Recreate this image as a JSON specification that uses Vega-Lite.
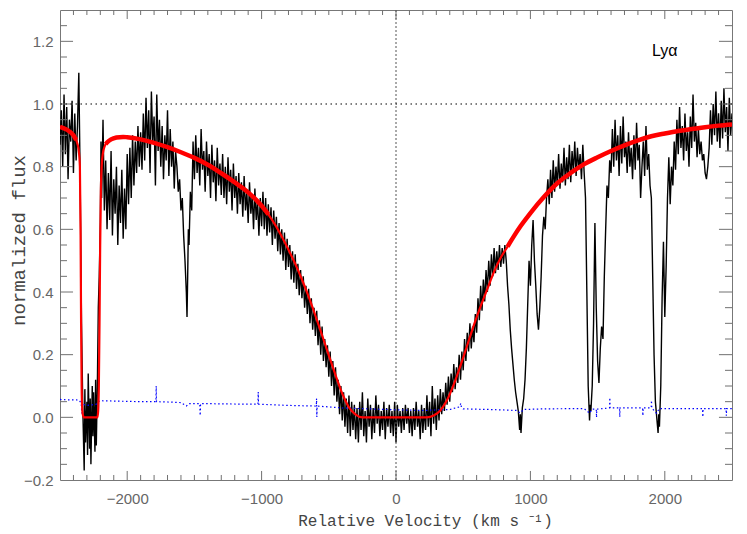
{
  "$schema": "https://vega.github.io/schema/vega-lite/v6.json",
  "width": 672,
  "height": 470,
  "autosize": {"type": "none"},
  "padding": {"left": 60, "top": 10, "right": 15, "bottom": 54},
  "background": "white",
  "config": {"view": {"stroke": "#777777", "strokeWidth": 1}, "axis": {"domain": false, "grid": false, "ticks": false}},
  "datasets": {
    "xmaj": [{"v":-2000},{"v":-1000},{"v":0},{"v":1000},{"v":2000}],
    "xmin": [{"v":-2400},{"v":-2300},{"v":-2200},{"v":-2100},{"v":-1900},{"v":-1800},{"v":-1700},{"v":-1600},{"v":-1500},{"v":-1400},{"v":-1300},{"v":-1200},{"v":-1100},{"v":-900},{"v":-800},{"v":-700},{"v":-600},{"v":-500},{"v":-400},{"v":-300},{"v":-200},{"v":-100},{"v":100},{"v":200},{"v":300},{"v":400},{"v":500},{"v":600},{"v":700},{"v":800},{"v":900},{"v":1100},{"v":1200},{"v":1300},{"v":1400},{"v":1500},{"v":1600},{"v":1700},{"v":1800},{"v":1900},{"v":2100},{"v":2200},{"v":2300},{"v":2400}],
    "ymaj": [{"f":0},{"f":0.2},{"f":0.4},{"f":0.6},{"f":0.8},{"f":1.0},{"f":1.2}],
    "ymin": [{"f":-0.15},{"f":-0.1},{"f":-0.05},{"f":0.05},{"f":0.1},{"f":0.15},{"f":0.25},{"f":0.3},{"f":0.35},{"f":0.45},{"f":0.5},{"f":0.55},{"f":0.65},{"f":0.7},{"f":0.75},{"f":0.85},{"f":0.9},{"f":0.95},{"f":1.05},{"f":1.1},{"f":1.15},{"f":1.25}],
    "spec": [
      {"v":-2500,"f":0.87},{"v":-2490,"f":0.98},{"v":-2480,"f":0.80},{"v":-2470,"f":1.03},{"v":-2460,"f":0.84},{"v":-2450,"f":0.99},{"v":-2440,"f":0.76},{"v":-2430,"f":0.95},{"v":-2420,"f":0.88},{"v":-2410,"f":1.01},{"v":-2400,"f":0.78},{"v":-2390,"f":0.97},{"v":-2380,"f":0.82},{"v":-2370,"f":0.93},{"v":-2360,"f":1.10},{"v":-2350,"f":0.76},{"v":-2340,"f":0.30},
      {"v":-2330,"f":0.02},{"v":-2320,"f":-0.17},{"v":-2315,"f":0.09},{"v":-2310,"f":-0.08},{"v":-2300,"f":0.05},{"v":-2295,"f":-0.12},{"v":-2290,"f":0.14},{"v":-2280,"f":-0.10},{"v":-2275,"f":0.06},{"v":-2270,"f":-0.15},{"v":-2260,"f":0.10},{"v":-2255,"f":-0.06},{"v":-2250,"f":0.08},{"v":-2240,"f":-0.11},{"v":-2235,"f":0.12},{"v":-2230,"f":-0.09},{"v":-2222,"f":0.10},{"v":-2215,"f":0.35},{"v":-2208,"f":0.45},{"v":-2200,"f":0.62},{"v":-2195,"f":0.88},{"v":-2190,"f":0.70},{"v":-2180,"f":0.95},
      {"v":-2170,"f":0.66},{"v":-2160,"f":0.82},{"v":-2150,"f":0.60},{"v":-2140,"f":0.78},{"v":-2130,"f":0.63},{"v":-2120,"f":0.85},{"v":-2110,"f":0.58},{"v":-2100,"f":0.76},{"v":-2090,"f":0.65},{"v":-2080,"f":0.80},{"v":-2070,"f":0.55},{"v":-2060,"f":0.74},{"v":-2050,"f":0.62},{"v":-2040,"f":0.79},{"v":-2030,"f":0.57},{"v":-2020,"f":0.73},{"v":-2010,"f":0.60},{"v":-2000,"f":0.84},{"v":-1990,"f":0.68},
      {"v":-1980,"f":0.86},{"v":-1970,"f":0.70},{"v":-1960,"f":0.90},{"v":-1950,"f":0.74},{"v":-1940,"f":0.88},{"v":-1930,"f":0.78},{"v":-1920,"f":0.93},{"v":-1910,"f":0.80},{"v":-1900,"f":0.91},{"v":-1890,"f":0.79},
      {"v":-1880,"f":0.97},{"v":-1870,"f":0.82},{"v":-1860,"f":1.02},{"v":-1850,"f":0.86},{"v":-1840,"f":0.98},{"v":-1830,"f":0.78},{"v":-1820,"f":1.04},{"v":-1810,"f":0.88},{"v":-1800,"f":0.96},{"v":-1790,"f":0.74},{"v":-1780,"f":1.03},{"v":-1770,"f":0.85},{"v":-1760,"f":0.95},{"v":-1750,"f":0.80},{"v":-1740,"f":0.93},{"v":-1730,"f":0.76},{"v":-1720,"f":0.90},{"v":-1710,"f":0.82},{"v":-1700,"f":0.98},{"v":-1690,"f":0.77},{"v":-1680,"f":0.92},{"v":-1670,"f":0.80},{"v":-1660,"f":0.88},{"v":-1650,"f":0.73},{"v":-1640,"f":0.85},
      {"v":-1630,"f":0.80},{"v":-1620,"f":0.72},{"v":-1610,"f":0.76},{"v":-1600,"f":0.66},{"v":-1590,"f":0.70},{"v":-1580,"f":0.58},{"v":-1570,"f":0.50},{"v":-1560,"f":0.40},{"v":-1555,"f":0.32},{"v":-1550,"f":0.45},{"v":-1545,"f":0.60},{"v":-1540,"f":0.55},{"v":-1530,"f":0.72},{"v":-1520,"f":0.66},
      {"v":-1510,"f":0.88},{"v":-1500,"f":0.76},{"v":-1490,"f":0.90},{"v":-1480,"f":0.78},{"v":-1470,"f":0.86},{"v":-1460,"f":0.74},{"v":-1450,"f":0.92},{"v":-1440,"f":0.79},{"v":-1430,"f":0.85},{"v":-1420,"f":0.72},{"v":-1410,"f":0.88},{"v":-1400,"f":0.77},{"v":-1390,"f":0.84},{"v":-1380,"f":0.70},{"v":-1370,"f":0.87},{"v":-1360,"f":0.75},{"v":-1350,"f":0.82},{"v":-1340,"f":0.69},{"v":-1330,"f":0.86},{"v":-1320,"f":0.74},{"v":-1310,"f":0.81},{"v":-1300,"f":0.71},{"v":-1290,"f":0.84},{"v":-1280,"f":0.70},{"v":-1270,"f":0.80},{"v":-1260,"f":0.68},{"v":-1250,"f":0.83},{"v":-1240,"f":0.72},{"v":-1230,"f":0.79},{"v":-1220,"f":0.66},{"v":-1210,"f":0.81},{"v":-1200,"f":0.70},{"v":-1190,"f":0.77},{"v":-1180,"f":0.65},{"v":-1170,"f":0.78},{"v":-1160,"f":0.68},{"v":-1150,"f":0.75},{"v":-1140,"f":0.64},{"v":-1130,"f":0.77},{"v":-1120,"f":0.66},{"v":-1110,"f":0.72},{"v":-1100,"f":0.62},{"v":-1090,"f":0.75},{"v":-1080,"f":0.65},{"v":-1070,"f":0.71},{"v":-1060,"f":0.60},{"v":-1050,"f":0.73},{"v":-1040,"f":0.63},{"v":-1030,"f":0.69},{"v":-1020,"f":0.58},{"v":-1010,"f":0.70},{"v":-1000,"f":0.61},
      {"v":-990,"f":0.72},{"v":-980,"f":0.60},{"v":-970,"f":0.70},{"v":-960,"f":0.58},{"v":-950,"f":0.68},{"v":-940,"f":0.59},{"v":-930,"f":0.67},{"v":-920,"f":0.55},{"v":-910,"f":0.66},{"v":-900,"f":0.57},{"v":-890,"f":0.64},{"v":-880,"f":0.53},{"v":-870,"f":0.62},{"v":-860,"f":0.52},{"v":-850,"f":0.60},{"v":-840,"f":0.50},{"v":-830,"f":0.59},{"v":-820,"f":0.47},{"v":-810,"f":0.57},{"v":-800,"f":0.48},{"v":-790,"f":0.55},{"v":-780,"f":0.44},{"v":-770,"f":0.53},{"v":-760,"f":0.43},{"v":-750,"f":0.52},{"v":-740,"f":0.41},{"v":-730,"f":0.49},{"v":-720,"f":0.39},{"v":-710,"f":0.47},{"v":-700,"f":0.38},{"v":-690,"f":0.45},{"v":-680,"f":0.35},{"v":-670,"f":0.42},{"v":-660,"f":0.33},{"v":-650,"f":0.41},{"v":-640,"f":0.30},{"v":-630,"f":0.38},{"v":-620,"f":0.28},{"v":-610,"f":0.35},{"v":-600,"f":0.26},{"v":-590,"f":0.34},{"v":-580,"f":0.23},{"v":-570,"f":0.31},{"v":-560,"f":0.20},{"v":-550,"f":0.29},{"v":-540,"f":0.18},{"v":-530,"f":0.25},{"v":-520,"f":0.16},{"v":-510,"f":0.23},{"v":-500,"f":0.13},{"v":-490,"f":0.21},{"v":-480,"f":0.10},{"v":-470,"f":0.18},{"v":-460,"f":0.07},{"v":-450,"f":0.16},{"v":-440,"f":0.05},{"v":-430,"f":0.12},{"v":-420,"f":0.01},{"v":-410,"f":0.10},{"v":-400,"f":-0.01},{"v":-390,"f":0.08},{"v":-380,"f":-0.03},{"v":-370,"f":0.06},{"v":-360,"f":-0.05},{"v":-350,"f":0.07},{"v":-340,"f":-0.06},{"v":-330,"f":0.05},{"v":-320,"f":-0.04},{"v":-310,"f":0.04},{"v":-300,"f":-0.07},
      {"v":-290,"f":0.03},{"v":-280,"f":-0.08},{"v":-270,"f":0.05},{"v":-260,"f":-0.04},{"v":-250,"f":0.08},{"v":-240,"f":-0.06},{"v":-230,"f":0.02},{"v":-220,"f":-0.08},{"v":-210,"f":0.06},{"v":-200,"f":-0.03},{"v":-190,"f":0.04},{"v":-180,"f":-0.07},{"v":-170,"f":0.03},{"v":-160,"f":-0.05},{"v":-150,"f":0.07},{"v":-140,"f":-0.02},{"v":-130,"f":0.04},{"v":-120,"f":-0.06},{"v":-110,"f":0.02},{"v":-100,"f":-0.04},{"v":-90,"f":0.05},{"v":-80,"f":-0.07},{"v":-70,"f":0.03},{"v":-60,"f":-0.03},{"v":-50,"f":0.04},{"v":-40,"f":-0.05},{"v":-30,"f":0.02},{"v":-20,"f":-0.06},{"v":-10,"f":0.05},{"v":0,"f":-0.08},{"v":10,"f":0.04},{"v":20,"f":-0.03},{"v":30,"f":0.02},{"v":40,"f":-0.05},{"v":50,"f":0.03},{"v":60,"f":-0.04},{"v":70,"f":0.04},{"v":80,"f":-0.02},{"v":90,"f":0.03},{"v":100,"f":-0.05},{"v":110,"f":0.02},{"v":120,"f":-0.06},{"v":130,"f":0.03},{"v":140,"f":-0.04},{"v":150,"f":0.05},{"v":160,"f":-0.03},{"v":170,"f":0.02},{"v":180,"f":-0.07},{"v":190,"f":0.04},{"v":200,"f":-0.05},{"v":210,"f":0.03},{"v":220,"f":-0.04},{"v":230,"f":0.07},{"v":240,"f":-0.03},{"v":250,"f":0.05},{"v":260,"f":-0.06},{"v":270,"f":0.10},{"v":280,"f":-0.02},{"v":290,"f":0.06},{"v":300,"f":-0.04},
      {"v":310,"f":0.07},{"v":320,"f":-0.01},{"v":330,"f":0.09},{"v":340,"f":0.01},{"v":350,"f":0.08},{"v":360,"f":0.02},{"v":370,"f":0.11},{"v":380,"f":0.04},{"v":390,"f":0.13},{"v":400,"f":0.05},{"v":410,"f":0.14},{"v":420,"f":0.08},{"v":430,"f":0.17},{"v":440,"f":0.09},{"v":450,"f":0.16},{"v":460,"f":0.11},{"v":470,"f":0.20},{"v":480,"f":0.12},{"v":490,"f":0.21},{"v":500,"f":0.15},{"v":510,"f":0.25},{"v":520,"f":0.18},{"v":530,"f":0.27},{"v":540,"f":0.21},{"v":550,"f":0.30},{"v":560,"f":0.22},{"v":570,"f":0.29},{"v":580,"f":0.24},{"v":590,"f":0.33},{"v":600,"f":0.27},{"v":610,"f":0.38},{"v":620,"f":0.31},{"v":630,"f":0.42},{"v":640,"f":0.34},{"v":650,"f":0.44},{"v":660,"f":0.37},{"v":670,"f":0.47},{"v":680,"f":0.40},{"v":690,"f":0.50},{"v":700,"f":0.42},{"v":710,"f":0.52},{"v":720,"f":0.45},{"v":730,"f":0.54},{"v":740,"f":0.46},{"v":750,"f":0.53},{"v":760,"f":0.47},{"v":770,"f":0.55},{"v":780,"f":0.48},{"v":790,"f":0.54},{"v":800,"f":0.49},{"v":810,"f":0.55},
      {"v":820,"f":0.50},{"v":830,"f":0.42},{"v":840,"f":0.36},{"v":850,"f":0.28},{"v":860,"f":0.22},{"v":870,"f":0.17},{"v":880,"f":0.12},{"v":890,"f":0.08},{"v":900,"f":0.05},{"v":910,"f":0.02},{"v":920,"f":-0.04},{"v":925,"f":0.01},{"v":930,"f":-0.05},{"v":940,"f":0.03},{"v":950,"f":0.06},{"v":960,"f":0.12},{"v":970,"f":0.22},{"v":980,"f":0.36},{"v":990,"f":0.50},{"v":1000,"f":0.42},{"v":1010,"f":0.55},{"v":1020,"f":0.63},{"v":1030,"f":0.50},{"v":1040,"f":0.42},{"v":1050,"f":0.33},{"v":1060,"f":0.28},{"v":1070,"f":0.35},{"v":1080,"f":0.45},{"v":1090,"f":0.58},{"v":1100,"f":0.64},{"v":1110,"f":0.60},{"v":1120,"f":0.70},
      {"v":1130,"f":0.76},{"v":1140,"f":0.68},{"v":1150,"f":0.79},{"v":1160,"f":0.70},{"v":1170,"f":0.82},{"v":1180,"f":0.72},{"v":1190,"f":0.80},{"v":1200,"f":0.74},{"v":1210,"f":0.84},{"v":1220,"f":0.73},{"v":1230,"f":0.81},{"v":1240,"f":0.75},{"v":1250,"f":0.86},{"v":1260,"f":0.74},{"v":1270,"f":0.83},{"v":1280,"f":0.76},{"v":1290,"f":0.87},{"v":1300,"f":0.75},{"v":1310,"f":0.85},{"v":1320,"f":0.78},{"v":1330,"f":0.88},{"v":1340,"f":0.77},{"v":1350,"f":0.86},{"v":1360,"f":0.79},{"v":1370,"f":0.84},{"v":1380,"f":0.76},{"v":1390,"f":0.87},{"v":1400,"f":0.78},{"v":1410,"f":0.70},
      {"v":1420,"f":0.40},{"v":1430,"f":0.10},{"v":1440,"f":-0.01},{"v":1445,"f":0.04},{"v":1450,"f":0.02},{"v":1460,"f":0.10},{"v":1470,"f":0.30},{"v":1480,"f":0.62},{"v":1490,"f":0.35},{"v":1500,"f":0.18},{"v":1510,"f":0.11},{"v":1520,"f":0.22},{"v":1530,"f":0.29},{"v":1540,"f":0.25},{"v":1550,"f":0.45},{"v":1560,"f":0.60},{"v":1570,"f":0.74},{"v":1580,"f":0.70},{"v":1590,"f":0.82},
      {"v":1600,"f":0.78},{"v":1610,"f":0.92},{"v":1620,"f":0.80},{"v":1630,"f":0.95},{"v":1640,"f":0.82},{"v":1650,"f":0.90},{"v":1660,"f":0.77},{"v":1670,"f":0.93},{"v":1680,"f":0.81},{"v":1690,"f":0.96},{"v":1700,"f":0.83},{"v":1710,"f":0.88},{"v":1720,"f":0.78},{"v":1730,"f":0.91},{"v":1740,"f":0.80},{"v":1750,"f":0.86},{"v":1760,"f":0.76},{"v":1770,"f":0.90},{"v":1780,"f":0.79},{"v":1790,"f":0.94},{"v":1800,"f":0.82},{"v":1810,"f":0.87},{"v":1820,"f":0.70},{"v":1830,"f":0.80},{"v":1840,"f":0.88},{"v":1850,"f":0.77},{"v":1860,"f":0.93},{"v":1870,"f":0.79},{"v":1880,"f":0.84},{"v":1890,"f":0.74},
      {"v":1900,"f":0.70},{"v":1910,"f":0.45},{"v":1920,"f":0.20},{"v":1930,"f":0.05},{"v":1940,"f":0.00},{"v":1950,"f":-0.05},{"v":1955,"f":0.01},{"v":1960,"f":-0.03},{"v":1970,"f":0.10},{"v":1980,"f":0.38},{"v":1990,"f":0.56},{"v":2000,"f":0.32},{"v":2010,"f":0.48},{"v":2020,"f":0.70},{"v":2030,"f":0.83},{"v":2040,"f":0.68},{"v":2050,"f":0.80},
      {"v":2060,"f":0.74},{"v":2070,"f":0.88},{"v":2080,"f":0.79},{"v":2090,"f":0.95},{"v":2100,"f":0.84},{"v":2110,"f":0.99},{"v":2120,"f":0.86},{"v":2130,"f":0.93},{"v":2140,"f":0.82},{"v":2150,"f":0.97},{"v":2160,"f":0.85},{"v":2170,"f":0.91},{"v":2180,"f":0.80},{"v":2190,"f":0.96},{"v":2200,"f":0.86},{"v":2210,"f":1.03},{"v":2220,"f":0.88},{"v":2230,"f":0.94},{"v":2240,"f":0.83},{"v":2250,"f":0.92},{"v":2260,"f":0.84},{"v":2270,"f":0.88},{"v":2280,"f":0.82},
      {"v":2290,"f":0.84},{"v":2300,"f":0.78},{"v":2310,"f":0.76},{"v":2320,"f":0.80},{"v":2330,"f":0.86},
      {"v":2340,"f":0.98},{"v":2350,"f":0.87},{"v":2360,"f":1.00},{"v":2370,"f":0.90},{"v":2380,"f":1.04},{"v":2390,"f":0.88},{"v":2400,"f":0.97},{"v":2410,"f":0.86},{"v":2420,"f":1.01},{"v":2430,"f":0.89},{"v":2440,"f":1.05},{"v":2450,"f":0.91},{"v":2460,"f":0.99},{"v":2470,"f":0.85},{"v":2480,"f":1.02},{"v":2490,"f":0.90},{"v":2500,"f":0.97}
    ],
    "model": [
      {"v":-2500,"f":0.927},{"v":-2450,"f":0.918},{"v":-2400,"f":0.90},{"v":-2380,"f":0.885},{"v":-2370,"f":0.872},{"v":-2360,"f":0.85},{"v":-2352,"f":0.80},{"v":-2347,"f":0.60},{"v":-2343,"f":0.30},{"v":-2339,"f":0.10},{"v":-2335,"f":0.03},{"v":-2330,"f":0.008},{"v":-2322,"f":0},{"v":-2222,"f":0},{"v":-2216,"f":0.02},{"v":-2211,"f":0.10},{"v":-2206,"f":0.30},{"v":-2201,"f":0.55},{"v":-2196,"f":0.72},{"v":-2190,"f":0.80},{"v":-2180,"f":0.845},{"v":-2170,"f":0.862},{"v":-2160,"f":0.872},{"v":-2150,"f":0.877},{"v":-2120,"f":0.887},{"v":-2080,"f":0.893},{"v":-2030,"f":0.895},{"v":-2000,"f":0.894},{"v":-1900,"f":0.887},{"v":-1800,"f":0.876},{"v":-1700,"f":0.862},{"v":-1600,"f":0.846},{"v":-1500,"f":0.828},{"v":-1400,"f":0.806},{"v":-1300,"f":0.779},{"v":-1200,"f":0.75},{"v":-1100,"f":0.718},{"v":-1000,"f":0.675},{"v":-950,"f":0.648},{"v":-900,"f":0.615},{"v":-850,"f":0.577},{"v":-800,"f":0.535},{"v":-750,"f":0.49},{"v":-700,"f":0.44},{"v":-650,"f":0.385},{"v":-600,"f":0.325},{"v":-550,"f":0.262},{"v":-500,"f":0.198},{"v":-450,"f":0.135},{"v":-400,"f":0.076},{"v":-350,"f":0.032},{"v":-300,"f":0.009},{"v":-250,"f":0},{"v":230,"f":0},{"v":280,"f":0.006},{"v":330,"f":0.022},{"v":380,"f":0.055},{"v":430,"f":0.105},{"v":480,"f":0.165},{"v":530,"f":0.23},{"v":580,"f":0.295},{"v":630,"f":0.355},{"v":680,"f":0.41},{"v":730,"f":0.465},{"v":780,"f":0.51},{"v":830,"f":0.545},{"v":880,"f":0.58},{"v":930,"f":0.612},{"v":1000,"f":0.652},{"v":1100,"f":0.703},{"v":1200,"f":0.747},{"v":1300,"f":0.78},{"v":1400,"f":0.808},{"v":1500,"f":0.83},{"v":1600,"f":0.85},{"v":1700,"f":0.868},{"v":1800,"f":0.884},{"v":1900,"f":0.897},{"v":2000,"f":0.906},{"v":2100,"f":0.914},{"v":2200,"f":0.92},{"v":2300,"f":0.926},{"v":2400,"f":0.931},{"v":2500,"f":0.935}
    ],
    "thick": [
      {"g":1,"v":-2500,"f":0.927},{"g":1,"v":-2450,"f":0.918},{"g":1,"v":-2400,"f":0.90},{"g":1,"v":-2380,"f":0.885},
      {"g":2,"v":-2160,"f":0.872},{"g":2,"v":-2150,"f":0.877},{"g":2,"v":-2120,"f":0.887},{"g":2,"v":-2080,"f":0.893},{"g":2,"v":-2030,"f":0.895},{"g":2,"v":-2000,"f":0.894},{"g":2,"v":-1900,"f":0.887},{"g":2,"v":-1800,"f":0.876},{"g":2,"v":-1700,"f":0.862},{"g":2,"v":-1600,"f":0.846},{"g":2,"v":-1500,"f":0.828},{"g":2,"v":-1400,"f":0.806},{"g":2,"v":-1300,"f":0.779},{"g":2,"v":-1200,"f":0.75},{"g":2,"v":-1100,"f":0.718},{"g":2,"v":-1000,"f":0.675},{"g":2,"v":-950,"f":0.648},
      {"g":3,"v":830,"f":0.545},{"g":3,"v":880,"f":0.58},{"g":3,"v":930,"f":0.612},{"g":3,"v":1000,"f":0.652},{"g":3,"v":1100,"f":0.703},{"g":3,"v":1200,"f":0.747},{"g":3,"v":1300,"f":0.78},{"g":3,"v":1400,"f":0.808},{"g":3,"v":1500,"f":0.83},{"g":3,"v":1600,"f":0.85},{"g":3,"v":1700,"f":0.868},{"g":3,"v":1800,"f":0.884},{"g":3,"v":1900,"f":0.897},{"g":3,"v":2000,"f":0.906},{"g":3,"v":2100,"f":0.914},{"g":3,"v":2200,"f":0.92},{"g":3,"v":2300,"f":0.926},{"g":3,"v":2400,"f":0.931},{"g":3,"v":2500,"f":0.935}
    ],
    "err": [
      {"v":-2500,"f":0.057},{"v":-2450,"f":0.056},{"v":-2400,"f":0.056},{"v":-2360,"f":0.055},{"v":-2342,"f":0.046},{"v":-2338,"f":0.012},{"v":-2334,"f":0.042},{"v":-2300,"f":0.038},{"v":-2260,"f":0.04},{"v":-2230,"f":0.042},{"v":-2215,"f":0.05},{"v":-2200,"f":0.053},{"v":-2100,"f":0.052},{"v":-2000,"f":0.051},{"v":-1900,"f":0.050},{"v":-1786,"f":0.050},{"v":-1784,"f":0.10},{"v":-1782,"f":0.050},{"v":-1700,"f":0.049},{"v":-1600,"f":0.047},{"v":-1560,"f":0.036},{"v":-1540,"f":0.044},{"v":-1460,"f":0.044},{"v":-1457,"f":0.006},{"v":-1454,"f":0.044},{"v":-1300,"f":0.043},{"v":-1100,"f":0.042},{"v":-1027,"f":0.042},{"v":-1025,"f":0.081},{"v":-1023,"f":0.042},{"v":-800,"f":0.038},{"v":-700,"f":0.037},{"v":-593,"f":0.036},{"v":-591,"f":0.06},{"v":-589,"f":0.001},{"v":-587,"f":0.036},{"v":-400,"f":0.030},{"v":-200,"f":0.027},{"v":0,"f":0.024},{"v":200,"f":0.022},{"v":400,"f":0.025},{"v":470,"f":0.033},{"v":483,"f":0.045},{"v":486,"f":0.033},{"v":500,"f":0.027},{"v":700,"f":0.025},{"v":900,"f":0.022},{"v":922,"f":0.014},{"v":950,"f":0.025},{"v":1100,"f":0.027},{"v":1400,"f":0.028},{"v":1440,"f":0.013},{"v":1460,"f":0.026},{"v":1490,"f":0.026},{"v":1492,"f":0.0},{"v":1494,"f":0.026},{"v":1589,"f":0.030},{"v":1591,"f":0.063},{"v":1593,"f":0.030},{"v":1663,"f":0.030},{"v":1665,"f":0.001},{"v":1667,"f":0.030},{"v":1835,"f":0.030},{"v":1837,"f":0.005},{"v":1839,"f":0.030},{"v":1899,"f":0.030},{"v":1901,"f":0.054},{"v":1903,"f":0.030},{"v":1938,"f":0.013},{"v":1960,"f":0.028},{"v":2281,"f":0.028},{"v":2283,"f":0.001},{"v":2285,"f":0.028},{"v":2456,"f":0.028},{"v":2458,"f":0.005},{"v":2460,"f":0.028},{"v":2500,"f":0.028}
    ]
  },
  "resolve": {"axis": {"x": "independent", "y": "independent"}},
  "layer": [
    {
      "data": {"name": "spec"},
      "mark": {"type": "line", "color": "black", "strokeWidth": 1.4, "clip": true},
      "encoding": {
        "x": {"field": "v", "type": "quantitative",
          "scale": {"domain": [-2500, 2500], "nice": false, "zero": false},
          "axis": {
            "orient": "bottom",
            "values": [-2000, -1000, 0, 1000, 2000],
            "ticks": false,
            "format": "d",
            "labelOverlap": false, "labelFlush": false, "labelBound": false,
            "labelPadding": 11,
            "labelFont": "Liberation Sans", "labelFontSize": 15, "labelColor": "#666666",
            "title": "Relative Velocity (km s ⁻¹)",
            "titleFont": "Liberation Mono", "titleFontSize": 16, "titleFontWeight": "normal", "titleColor": "#444444",
            "titlePadding": 6, "titleX": 365
          }
        },
        "y": {"field": "f", "type": "quantitative",
          "scale": {"domain": [-0.2, 1.3], "nice": false, "zero": false},
          "axis": {
            "orient": "left",
            "values": [-0.2, 0, 0.2, 0.4, 0.6, 0.8, 1.0, 1.2],
            "ticks": false,
            "format": ".1f",
            "labelOverlap": false, "labelFlush": false, "labelBound": false,
            "labelPadding": 7,
            "labelFont": "Liberation Sans", "labelFontSize": 15, "labelColor": "#666666",
            "title": "normalized flux",
            "titleFont": "Liberation Mono", "titleFontSize": 19, "titleFontWeight": "normal", "titleColor": "#444444",
            "titlePadding": -5, "titleY": 230
          }
        }
      }
    },
    {
      "data": {"name": "xmaj"},
      "mark": {"type": "rule", "color": "#707070", "strokeWidth": 1},
      "encoding": {
        "x": {"field": "v", "type": "quantitative", "axis": null},
        "y": {"datum": -0.2, "type": "quantitative", "axis": null},
        "y2": {"datum": -0.1712}
      }
    },
    {
      "data": {"name": "xmaj"},
      "mark": {"type": "rule", "color": "#707070", "strokeWidth": 1},
      "encoding": {
        "x": {"field": "v", "type": "quantitative", "axis": null},
        "y": {"datum": 1.3, "type": "quantitative", "axis": null},
        "y2": {"datum": 1.2712}
      }
    },
    {
      "data": {"name": "xmin"},
      "mark": {"type": "rule", "color": "#707070", "strokeWidth": 1},
      "encoding": {
        "x": {"field": "v", "type": "quantitative", "axis": null},
        "y": {"datum": -0.2, "type": "quantitative", "axis": null},
        "y2": {"datum": -0.184}
      }
    },
    {
      "data": {"name": "xmin"},
      "mark": {"type": "rule", "color": "#707070", "strokeWidth": 1},
      "encoding": {
        "x": {"field": "v", "type": "quantitative", "axis": null},
        "y": {"datum": 1.3, "type": "quantitative", "axis": null},
        "y2": {"datum": 1.284}
      }
    },
    {
      "data": {"name": "ymaj"},
      "mark": {"type": "rule", "color": "#707070", "strokeWidth": 1},
      "encoding": {
        "y": {"field": "f", "type": "quantitative", "axis": null},
        "x": {"datum": -2500, "type": "quantitative", "axis": null},
        "x2": {"datum": -2403}
      }
    },
    {
      "data": {"name": "ymaj"},
      "mark": {"type": "rule", "color": "#707070", "strokeWidth": 1},
      "encoding": {
        "y": {"field": "f", "type": "quantitative", "axis": null},
        "x": {"datum": 2500, "type": "quantitative", "axis": null},
        "x2": {"datum": 2403}
      }
    },
    {
      "data": {"name": "ymin"},
      "mark": {"type": "rule", "color": "#707070", "strokeWidth": 1},
      "encoding": {
        "y": {"field": "f", "type": "quantitative", "axis": null},
        "x": {"datum": -2500, "type": "quantitative", "axis": null},
        "x2": {"datum": -2448}
      }
    },
    {
      "data": {"name": "ymin"},
      "mark": {"type": "rule", "color": "#707070", "strokeWidth": 1},
      "encoding": {
        "y": {"field": "f", "type": "quantitative", "axis": null},
        "x": {"datum": 2500, "type": "quantitative", "axis": null},
        "x2": {"datum": 2448}
      }
    },
    {
      "data": {"values": [{"v": 0}]},
      "mark": {"type": "rule", "color": "#555555", "strokeDash": [2, 2], "strokeWidth": 1},
      "encoding": {
        "x": {"field": "v", "type": "quantitative", "axis": null}
      }
    },
    {
      "data": {"values": [{"f": 1.0}]},
      "mark": {"type": "rule", "color": "black", "strokeDash": [1.5, 3.5], "strokeWidth": 1},
      "encoding": {
        "y": {"field": "f", "type": "quantitative", "axis": null}
      }
    },
    {
      "data": {"name": "err"},
      "mark": {"type": "line", "color": "#0000ff", "strokeWidth": 1.2, "strokeDash": [1.5, 2.5], "clip": true},
      "encoding": {
        "x": {"field": "v", "type": "quantitative", "axis": null},
        "y": {"field": "f", "type": "quantitative", "axis": null}
      }
    },
    {
      "data": {"name": "model"},
      "mark": {"type": "line", "color": "#ff0000", "strokeWidth": 2.2, "interpolate": "monotone", "clip": true},
      "encoding": {
        "x": {"field": "v", "type": "quantitative", "axis": null},
        "y": {"field": "f", "type": "quantitative", "axis": null}
      }
    },
    {
      "data": {"name": "thick"},
      "mark": {"type": "line", "color": "#ff0000", "strokeWidth": 4.5, "interpolate": "monotone", "clip": true},
      "encoding": {
        "x": {"field": "v", "type": "quantitative", "axis": null},
        "y": {"field": "f", "type": "quantitative", "axis": null},
        "detail": {"field": "g", "type": "nominal"}
      }
    },
    {
      "data": {"values": [{"v": 2000, "f": 1.17, "label": "Lyα"}]},
      "mark": {"type": "text", "font": "Liberation Sans", "fontSize": 16, "color": "black", "align": "center", "baseline": "middle"},
      "encoding": {
        "x": {"field": "v", "type": "quantitative", "axis": null},
        "y": {"field": "f", "type": "quantitative", "axis": null},
        "text": {"field": "label"}
      }
    }
  ]
}
